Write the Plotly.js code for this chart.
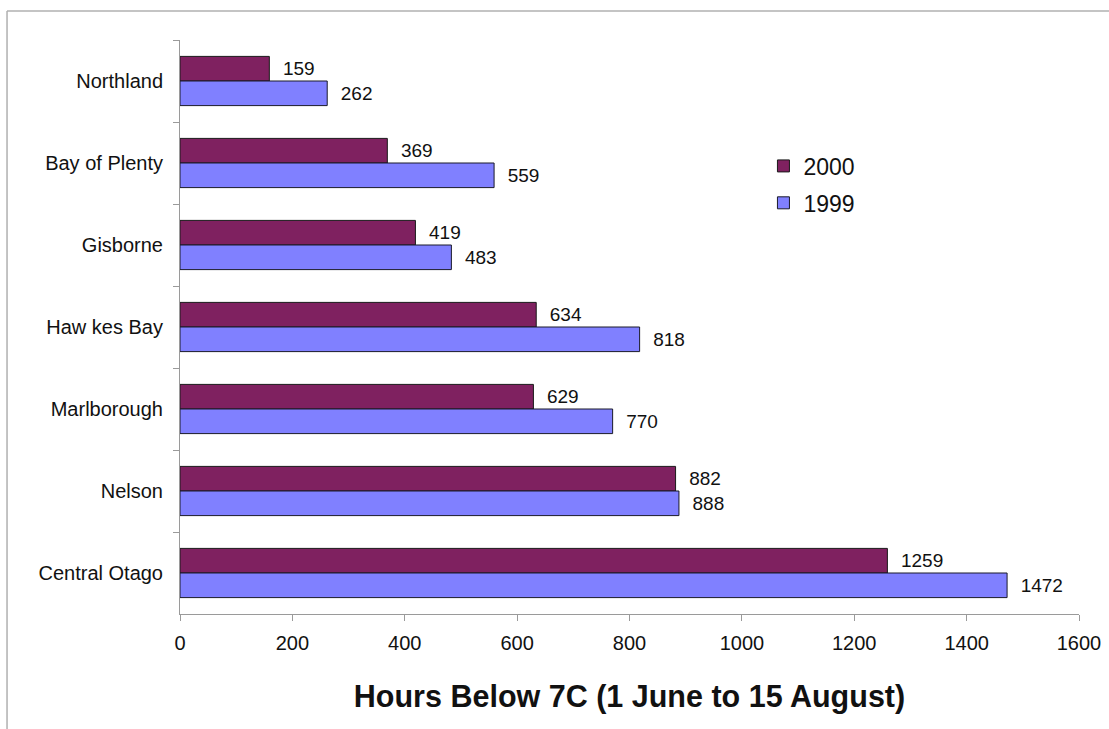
<!DOCTYPE html>
<html>
<head>
<meta charset="utf-8">
<script src="https://cdn.plot.ly/plotly-3.0.1.min.js"></script>
<style>
html,body{margin:0;padding:0;background:#fff;}
#chart{width:1109px;height:729px;}
</style>
</head>
<body>
<div id="chart"></div>
<script>
const regions = ["Northland", "Bay of Plenty", "Gisborne", "Haw kes Bay", "Marlborough", "Nelson", "Central Otago"];
const hours2000 = [159, 369, 419, 634, 629, 882, 1259];
const hours1999 = [262, 559, 483, 818, 770, 888, 1472];
const xTicks = [0, 200, 400, 600, 800, 1000, 1200, 1400, 1600];

const common = {
  type: 'bar',
  orientation: 'h',
  y: regions,
  textposition: 'outside',
  texttemplate: '\u00a0\u00a0%{x}',
  constraintext: 'none',
  cliponaxis: false,
  textfont: {family: 'Liberation Sans, Arial, sans-serif', size: 19, color: '#111'},
  hoverinfo: 'x+y+name'
};

const traces = [
  Object.assign({}, common, {
    name: '2000', x: hours2000, legendgroup: 'a',
    marker: {color: '#7f2160', line: {color: '#1a1a1a', width: 1}}
  }),
  Object.assign({}, common, {
    name: '1999', x: hours1999, legendgroup: 'b',
    marker: {color: '#8080ff', line: {color: '#1a1a2a', width: 1}}
  })
];

const layout = {
  width: 1109, height: 729,
  margin: {l: 180, r: 30, t: 40, b: 115, pad: 0},
  paper_bgcolor: '#fff', plot_bgcolor: '#fff',
  font: {family: 'Liberation Sans, Arial, sans-serif', color: '#111'},
  barmode: 'group', bargap: 0.4, bargroupgap: 0,
  showlegend: true,
  legend: {
    x: 0.649, y: 0.818, xanchor: 'left', yanchor: 'top',
    font: {size: 23, color: '#111'},
    bgcolor: 'rgba(0,0,0,0)', borderwidth: 0,
    traceorder: 'grouped', tracegroupgap: 4
  },
  xaxis: {
    range: [0, 1600], tickvals: xTicks, ticktext: xTicks.map(String),
    showgrid: false, zeroline: false,
    showline: true, linecolor: '#9a9a9a', linewidth: 1,
    ticks: 'outside', ticklen: 6, tickcolor: '#9a9a9a',
    ticklabelstandoff: 5,
    tickfont: {size: 20, color: '#111'},
    title: {text: '<b>Hours Below 7C (1 June to 15 August)</b>', font: {size: 30.5, color: '#111'}, standoff: 32}
  },
  yaxis: {
    type: 'category', autorange: 'reversed',
    tickson: 'boundaries',
    showgrid: false, zeroline: false,
    showline: true, linecolor: '#9a9a9a', linewidth: 1,
    ticks: 'outside', ticklen: 6, tickcolor: '#9a9a9a',
    ticklabelstandoff: 12,
    tickfont: {size: 20, color: '#111'}
  },
  shapes: [
    {type: 'line', xref: 'paper', yref: 'paper', x0: -0.1924, x1: 1.06, y0: 1.0505, y1: 1.0505, line: {color: '#b0b0b0', width: 1.5}},
    {type: 'line', xref: 'paper', yref: 'paper', x0: -0.1924, x1: -0.1924, y0: 1.0505, y1: -0.25, line: {color: '#b0b0b0', width: 1.5}}
  ]
};

Plotly.newPlot('chart', traces, layout, {displayModeBar: false, responsive: false});
</script>
</body>
</html>
